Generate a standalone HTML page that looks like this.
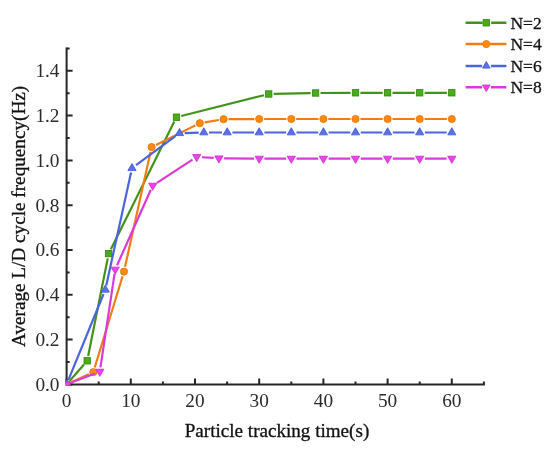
<!DOCTYPE html>
<html><head><meta charset="utf-8"><style>
html,body{margin:0;padding:0;background:#fff;}
svg{display:block;}
text{font-family:"Liberation Serif","Times New Roman",serif;fill:#111;stroke:#111;stroke-width:0.3px;}
text.t{fill:#2a2a2a;stroke:none;}
</style></head><body>
<svg width="550" height="450" viewBox="0 0 550 450">
<defs><clipPath id="clip"><rect x="65.60" y="48.40" width="418.30" height="337.00"/></clipPath></defs>

<path d="M66.60,48.40V384.40H483.90" stroke="#262626" stroke-width="2.0" fill="none" stroke-linecap="square"/>
<path d="M66.60,384.40v-6M98.70,384.40v-3M130.80,384.40v-6M162.90,384.40v-3M195.00,384.40v-6M227.10,384.40v-3M259.20,384.40v-6M291.30,384.40v-3M323.40,384.40v-6M355.50,384.40v-3M387.60,384.40v-6M419.70,384.40v-3M451.80,384.40v-6M483.90,384.40v-3M66.60,384.40h6M66.60,362.00h3M66.60,339.60h6M66.60,317.20h3M66.60,294.80h6M66.60,272.40h3M66.60,250.00h6M66.60,227.60h3M66.60,205.20h6M66.60,182.80h3M66.60,160.40h6M66.60,138.00h3M66.60,115.60h6M66.60,93.20h3M66.60,70.80h6M66.60,48.40h3" stroke="#262626" stroke-width="2.0" fill="none"/>
<path d="M69.82,380.71L83.98,364.49M88.16,356.00L107.74,258.40M110.88,249.21L174.32,121.59M181.25,116.00L263.95,95.20M273.60,93.90L310.70,93.10M320.50,92.98L350.60,92.82M360.40,92.80L382.70,92.80M392.50,92.80L414.80,92.80M424.60,92.80L446.90,92.80" stroke="#43931b" stroke-width="2.2" fill="none"/>
<g clip-path="url(#clip)"><rect x="63.40" y="381.20" width="6.40" height="6.40" fill="#48ad1a" stroke="#348410" stroke-width="0.8" stroke-linejoin="miter"/><rect x="84.00" y="357.60" width="6.40" height="6.40" fill="#48ad1a" stroke="#348410" stroke-width="0.8" stroke-linejoin="miter"/><rect x="105.50" y="250.40" width="6.40" height="6.40" fill="#48ad1a" stroke="#348410" stroke-width="0.8" stroke-linejoin="miter"/><rect x="173.30" y="114.00" width="6.40" height="6.40" fill="#48ad1a" stroke="#348410" stroke-width="0.8" stroke-linejoin="miter"/><rect x="265.50" y="90.80" width="6.40" height="6.40" fill="#48ad1a" stroke="#348410" stroke-width="0.8" stroke-linejoin="miter"/><rect x="312.40" y="89.80" width="6.40" height="6.40" fill="#48ad1a" stroke="#348410" stroke-width="0.8" stroke-linejoin="miter"/><rect x="352.30" y="89.60" width="6.40" height="6.40" fill="#48ad1a" stroke="#348410" stroke-width="0.8" stroke-linejoin="miter"/><rect x="384.40" y="89.60" width="6.40" height="6.40" fill="#48ad1a" stroke="#348410" stroke-width="0.8" stroke-linejoin="miter"/><rect x="416.50" y="89.60" width="6.40" height="6.40" fill="#48ad1a" stroke="#348410" stroke-width="0.8" stroke-linejoin="miter"/><rect x="448.60" y="89.60" width="6.40" height="6.40" fill="#48ad1a" stroke="#348410" stroke-width="0.8" stroke-linejoin="miter"/></g>

<path d="M71.06,382.36L88.84,374.24M94.73,367.51L122.57,276.29M125.06,266.82L150.54,151.88M155.99,144.92L195.41,125.38M204.63,122.39L218.77,120.01M228.50,119.17L254.30,119.03M264.10,119.00L286.40,119.00M296.20,119.00L318.50,119.00M328.30,119.00L350.60,119.00M360.40,119.00L382.70,119.00M392.50,119.00L414.80,119.00M424.60,119.00L446.90,119.00" stroke="#f07c14" stroke-width="2.2" fill="none"/>
<g clip-path="url(#clip)"><circle cx="66.60" cy="384.40" r="3.60" fill="#ff8a0a" stroke="#e2740c" stroke-width="0.8" stroke-linejoin="miter"/><circle cx="93.30" cy="372.20" r="3.60" fill="#ff8a0a" stroke="#e2740c" stroke-width="0.8" stroke-linejoin="miter"/><circle cx="124.00" cy="271.60" r="3.60" fill="#ff8a0a" stroke="#e2740c" stroke-width="0.8" stroke-linejoin="miter"/><circle cx="151.60" cy="147.10" r="3.60" fill="#ff8a0a" stroke="#e2740c" stroke-width="0.8" stroke-linejoin="miter"/><circle cx="199.80" cy="123.20" r="3.60" fill="#ff8a0a" stroke="#e2740c" stroke-width="0.8" stroke-linejoin="miter"/><circle cx="223.60" cy="119.20" r="3.60" fill="#ff8a0a" stroke="#e2740c" stroke-width="0.8" stroke-linejoin="miter"/><circle cx="259.20" cy="119.00" r="3.60" fill="#ff8a0a" stroke="#e2740c" stroke-width="0.8" stroke-linejoin="miter"/><circle cx="291.30" cy="119.00" r="3.60" fill="#ff8a0a" stroke="#e2740c" stroke-width="0.8" stroke-linejoin="miter"/><circle cx="323.40" cy="119.00" r="3.60" fill="#ff8a0a" stroke="#e2740c" stroke-width="0.8" stroke-linejoin="miter"/><circle cx="355.50" cy="119.00" r="3.60" fill="#ff8a0a" stroke="#e2740c" stroke-width="0.8" stroke-linejoin="miter"/><circle cx="387.60" cy="119.00" r="3.60" fill="#ff8a0a" stroke="#e2740c" stroke-width="0.8" stroke-linejoin="miter"/><circle cx="419.70" cy="119.00" r="3.60" fill="#ff8a0a" stroke="#e2740c" stroke-width="0.8" stroke-linejoin="miter"/><circle cx="451.80" cy="119.00" r="3.60" fill="#ff8a0a" stroke="#e2740c" stroke-width="0.8" stroke-linejoin="miter"/></g>

<path d="M68.33,380.16L103.57,294.04M106.25,285.49L131.05,172.51M136.03,165.23L175.47,136.17M184.70,133.05L198.60,132.65M209.00,132.50L222.00,132.50M232.40,132.50L254.00,132.50M264.40,132.50L286.10,132.50M296.50,132.50L318.20,132.50M328.60,132.50L350.30,132.50M360.70,132.50L382.40,132.50M392.80,132.50L414.50,132.50M424.90,132.50L446.60,132.50" stroke="#4c64dc" stroke-width="2.2" fill="none"/>
<g clip-path="url(#clip)"><polygon points="66.60,379.66 70.71,386.77 62.49,386.77" fill="#5872ec" stroke="#3f56cf" stroke-width="0.8" stroke-linejoin="miter"/><polygon points="105.30,285.06 109.41,292.17 101.19,292.17" fill="#5872ec" stroke="#3f56cf" stroke-width="0.8" stroke-linejoin="miter"/><polygon points="132.00,163.46 136.11,170.57 127.89,170.57" fill="#5872ec" stroke="#3f56cf" stroke-width="0.8" stroke-linejoin="miter"/><polygon points="179.50,128.46 183.61,135.57 175.39,135.57" fill="#5872ec" stroke="#3f56cf" stroke-width="0.8" stroke-linejoin="miter"/><polygon points="203.80,127.76 207.91,134.87 199.69,134.87" fill="#5872ec" stroke="#3f56cf" stroke-width="0.8" stroke-linejoin="miter"/><polygon points="227.20,127.76 231.31,134.87 223.09,134.87" fill="#5872ec" stroke="#3f56cf" stroke-width="0.8" stroke-linejoin="miter"/><polygon points="259.20,127.76 263.31,134.87 255.09,134.87" fill="#5872ec" stroke="#3f56cf" stroke-width="0.8" stroke-linejoin="miter"/><polygon points="291.30,127.76 295.41,134.87 287.19,134.87" fill="#5872ec" stroke="#3f56cf" stroke-width="0.8" stroke-linejoin="miter"/><polygon points="323.40,127.76 327.51,134.87 319.29,134.87" fill="#5872ec" stroke="#3f56cf" stroke-width="0.8" stroke-linejoin="miter"/><polygon points="355.50,127.76 359.61,134.87 351.39,134.87" fill="#5872ec" stroke="#3f56cf" stroke-width="0.8" stroke-linejoin="miter"/><polygon points="387.60,127.76 391.71,134.87 383.49,134.87" fill="#5872ec" stroke="#3f56cf" stroke-width="0.8" stroke-linejoin="miter"/><polygon points="419.70,127.76 423.81,134.87 415.59,134.87" fill="#5872ec" stroke="#3f56cf" stroke-width="0.8" stroke-linejoin="miter"/><polygon points="451.80,127.76 455.91,134.87 447.69,134.87" fill="#5872ec" stroke="#3f56cf" stroke-width="0.8" stroke-linejoin="miter"/></g>

<path d="M71.39,382.55L95.01,373.45M100.45,367.30L114.55,273.80M117.08,265.29L150.82,189.81M156.92,182.85L192.48,159.65M201.89,157.23L213.71,157.97M224.10,158.34L254.00,158.56M264.40,158.60L286.10,158.60M296.50,158.60L318.20,158.60M328.60,158.60L350.30,158.60M360.70,158.60L382.40,158.60M392.80,158.60L414.50,158.60M424.90,158.60L446.60,158.60" stroke="#d93ad9" stroke-width="2.2" fill="none"/>
<g clip-path="url(#clip)"><polygon points="62.49,382.03 70.71,382.03 66.60,389.14" fill="#f040f0" stroke="#c52fc5" stroke-width="0.8" stroke-linejoin="miter"/><polygon points="95.69,369.23 103.91,369.23 99.80,376.34" fill="#f040f0" stroke="#c52fc5" stroke-width="0.8" stroke-linejoin="miter"/><polygon points="111.09,267.13 119.31,267.13 115.20,274.24" fill="#f040f0" stroke="#c52fc5" stroke-width="0.8" stroke-linejoin="miter"/><polygon points="148.59,183.23 156.81,183.23 152.70,190.34" fill="#f040f0" stroke="#c52fc5" stroke-width="0.8" stroke-linejoin="miter"/><polygon points="192.59,154.53 200.81,154.53 196.70,161.64" fill="#f040f0" stroke="#c52fc5" stroke-width="0.8" stroke-linejoin="miter"/><polygon points="214.79,155.93 223.01,155.93 218.90,163.04" fill="#f040f0" stroke="#c52fc5" stroke-width="0.8" stroke-linejoin="miter"/><polygon points="255.09,156.23 263.31,156.23 259.20,163.34" fill="#f040f0" stroke="#c52fc5" stroke-width="0.8" stroke-linejoin="miter"/><polygon points="287.19,156.23 295.41,156.23 291.30,163.34" fill="#f040f0" stroke="#c52fc5" stroke-width="0.8" stroke-linejoin="miter"/><polygon points="319.29,156.23 327.51,156.23 323.40,163.34" fill="#f040f0" stroke="#c52fc5" stroke-width="0.8" stroke-linejoin="miter"/><polygon points="351.39,156.23 359.61,156.23 355.50,163.34" fill="#f040f0" stroke="#c52fc5" stroke-width="0.8" stroke-linejoin="miter"/><polygon points="383.49,156.23 391.71,156.23 387.60,163.34" fill="#f040f0" stroke="#c52fc5" stroke-width="0.8" stroke-linejoin="miter"/><polygon points="415.59,156.23 423.81,156.23 419.70,163.34" fill="#f040f0" stroke="#c52fc5" stroke-width="0.8" stroke-linejoin="miter"/><polygon points="447.69,156.23 455.91,156.23 451.80,163.34" fill="#f040f0" stroke="#c52fc5" stroke-width="0.8" stroke-linejoin="miter"/></g>

<text class="t" x="66.60" y="407" font-size="19.3" text-anchor="middle">0</text>
<text class="t" x="130.80" y="407" font-size="19.3" text-anchor="middle">10</text>
<text class="t" x="195.00" y="407" font-size="19.3" text-anchor="middle">20</text>
<text class="t" x="259.20" y="407" font-size="19.3" text-anchor="middle">30</text>
<text class="t" x="323.40" y="407" font-size="19.3" text-anchor="middle">40</text>
<text class="t" x="387.60" y="407" font-size="19.3" text-anchor="middle">50</text>
<text class="t" x="451.80" y="407" font-size="19.3" text-anchor="middle">60</text>
<text class="t" x="59.5" y="390.70" font-size="19.3" text-anchor="end">0.0</text>
<text class="t" x="59.5" y="345.90" font-size="19.3" text-anchor="end">0.2</text>
<text class="t" x="59.5" y="301.10" font-size="19.3" text-anchor="end">0.4</text>
<text class="t" x="59.5" y="256.30" font-size="19.3" text-anchor="end">0.6</text>
<text class="t" x="59.5" y="211.50" font-size="19.3" text-anchor="end">0.8</text>
<text class="t" x="59.5" y="166.70" font-size="19.3" text-anchor="end">1.0</text>
<text class="t" x="59.5" y="121.90" font-size="19.3" text-anchor="end">1.2</text>
<text class="t" x="59.5" y="77.10" font-size="19.3" text-anchor="end">1.4</text>
<text x="277" y="436.6" font-size="19.1" text-anchor="middle">Particle tracking time(s)</text>
<text transform="translate(24.6,216.4) rotate(-90)" font-size="19.2" text-anchor="middle">Average L/D cycle frequency(Hz)</text>
<path d="M465.6,22.8H482.70M491.20,22.8H506.4" stroke="#43931b" stroke-width="2.5"/>
<rect x="483.10" y="19.60" width="6.40" height="6.40" fill="#48ad1a" stroke="#348410" stroke-width="0.8" stroke-linejoin="miter"/>
<text x="510.4" y="29.00" font-size="17.5">N=2</text>
<path d="M465.6,44.1H482.90M489.70,44.1H506.4" stroke="#f07c14" stroke-width="2.5"/>
<circle cx="486.30" cy="44.10" r="3.60" fill="#ff8a0a" stroke="#e2740c" stroke-width="0.8" stroke-linejoin="miter"/>
<text x="510.4" y="50.30" font-size="17.5">N=4</text>
<path d="M465.6,65.9H482.10M490.90,65.9H506.4" stroke="#4c64dc" stroke-width="2.5"/>
<polygon points="486.30,61.50 490.11,68.10 482.49,68.10" fill="#5872ec" stroke="#3f56cf" stroke-width="0.8" stroke-linejoin="miter"/>
<text x="510.4" y="72.10" font-size="17.5">N=6</text>
<path d="M465.6,87.2H482.10M490.90,87.2H506.4" stroke="#d93ad9" stroke-width="2.5"/>
<polygon points="482.49,85.00 490.11,85.00 486.30,91.60" fill="#f040f0" stroke="#c52fc5" stroke-width="0.8" stroke-linejoin="miter"/>
<text x="510.4" y="93.40" font-size="17.5">N=8</text>
</svg></body></html>
